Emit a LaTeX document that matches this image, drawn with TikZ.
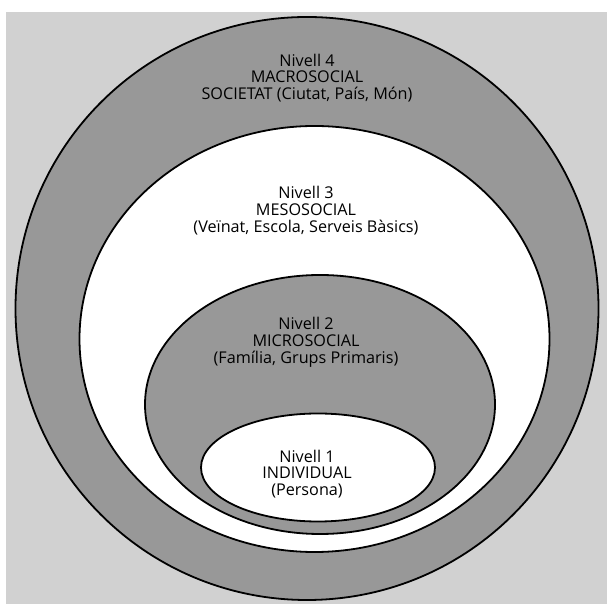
\documentclass[tikz,border=0pt]{standalone}
\usepackage{fontspec}
\setmainfont{Open Sans}
\definecolor{bggray}{RGB}{209,209,209}
\definecolor{ringgray}{RGB}{152,152,152}
\begin{document}
\begin{tikzpicture}[x=1pt,y=1pt,
  ring/.style={draw=black,line width=1.8pt},
  lbl/.style={align=center,font=\fontsize{16.2}{16.8}\selectfont,inner sep=0pt}]
\useasboundingbox (0,0) rectangle (607,604);
\fill[white] (0,0) rectangle (607,604);
\fill[bggray] (6,0) rectangle (607,592);
\draw[ring,fill=ringgray] (307,295.5) circle[radius=291.5];
\draw[ring,fill=white] (314.5,265) ellipse[x radius=235,y radius=213];
\draw[ring,fill=ringgray] (320,199.5) ellipse[x radius=175,y radius=129.5];
\draw[ring,fill=white] (318,136.5) ellipse[x radius=117,y radius=54];
\node[lbl] (l4) at (307,526) {Nivell 4\\MACROSOCIAL\\SOCIETAT (Ciutat, País, Món)};
\node[lbl] (l3) at (306,393.5) {Nivell 3\\MESOSOCIAL\\(Veïnat, Escola, Serveis Bàsics)};
\node[lbl] (l2) at (306,261.5) {Nivell 2\\MICROSOCIAL\\(Família, Grups Primaris)};
\node[lbl] (l1) at (307,130) {Nivell 1\\INDIVIDUAL\\(Persona)};
\end{tikzpicture}
\end{document}
